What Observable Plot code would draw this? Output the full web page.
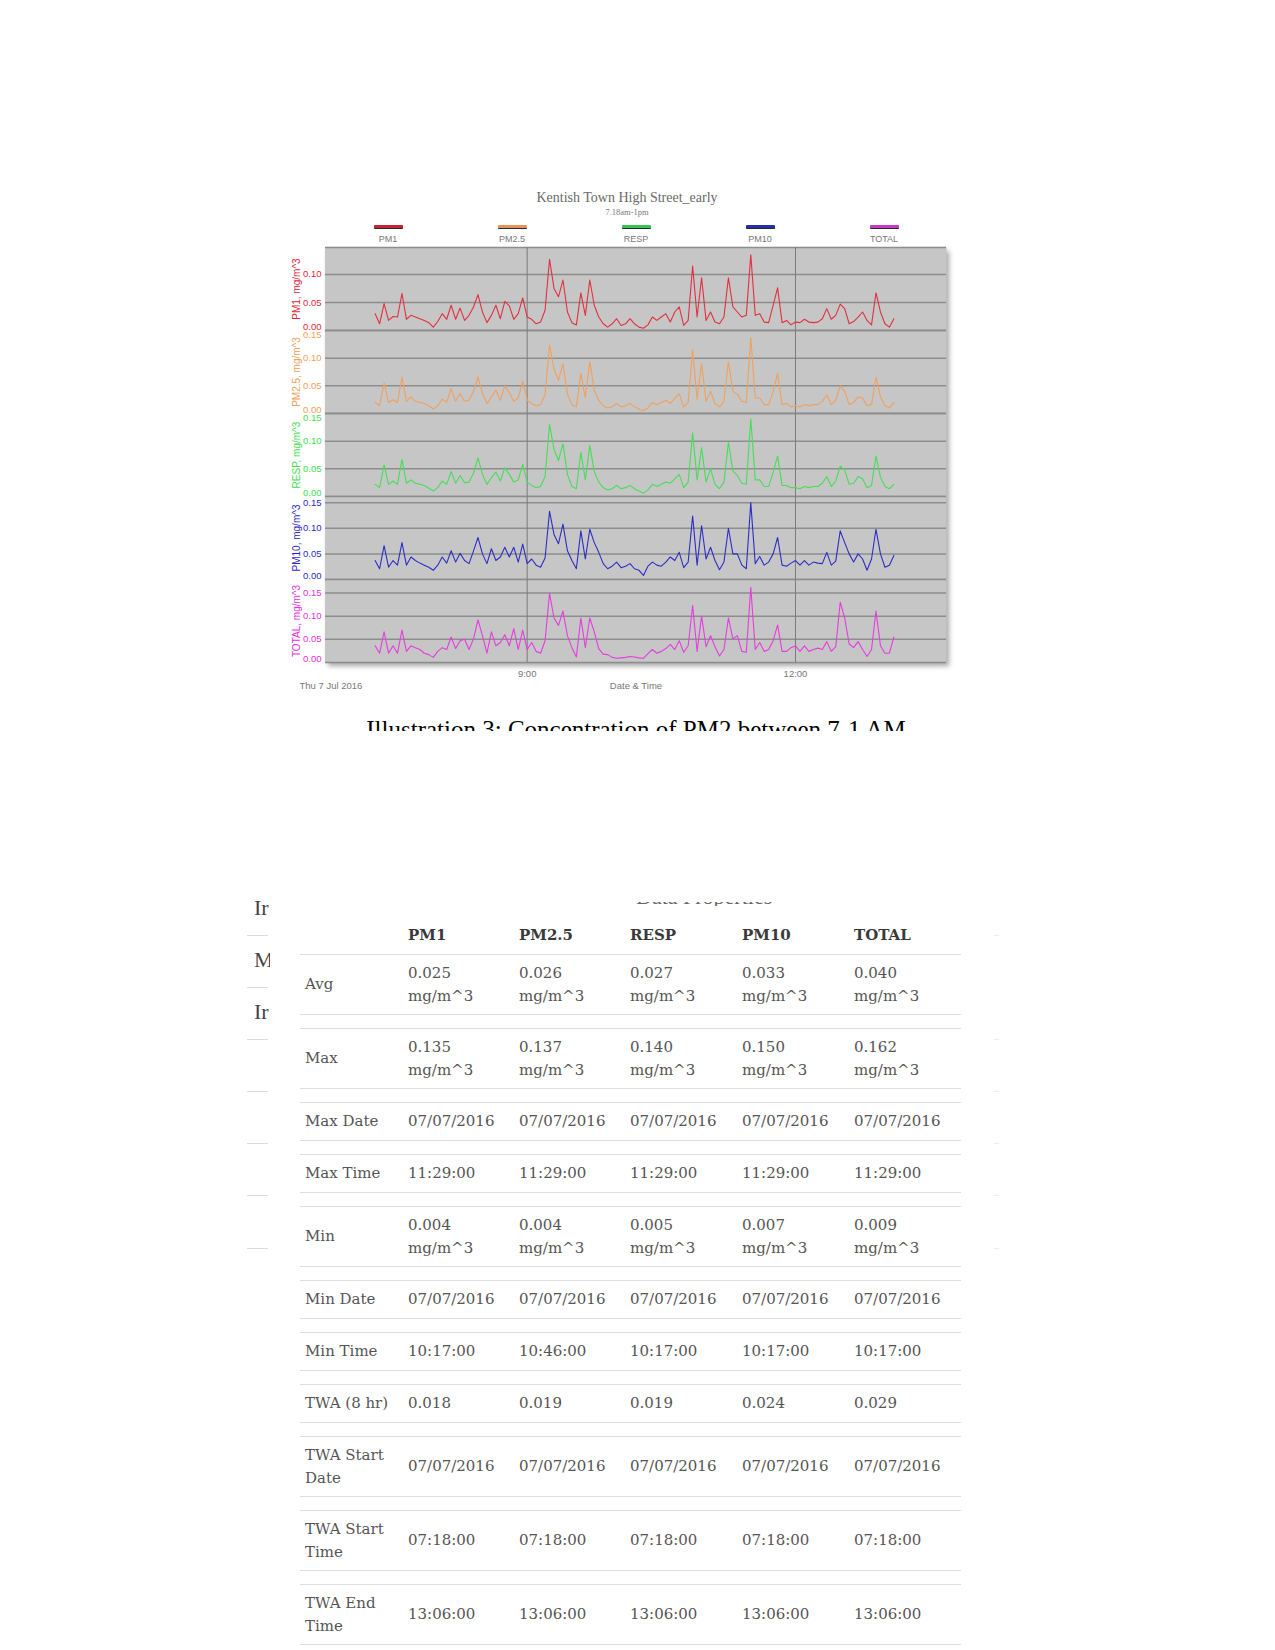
<!DOCTYPE html>
<html>
<head>
<meta charset="utf-8">
<script src="https://cdn.jsdelivr.net/npm/d3@7"></script>
<script src="https://cdn.jsdelivr.net/npm/@observablehq/plot@0.6"></script>
<style>
  html, body { margin: 0; padding: 0; background: #fff; }
  body { width: 1275px; height: 1650px; position: relative; overflow: hidden; font-family: "Liberation Sans", Arial, sans-serif; }
  .abs { position: absolute; }
  #title { left: 427px; width: 400px; top: 189px; text-align: center; font: 14px/18px "Liberation Serif", serif; color: #6a6a6a; }
  #subtitle { left: 527px; width: 200px; top: 206px; text-align: center; font: 8.5px/12px "Liberation Serif", serif; color: #777; }
  .sw { position: absolute; width: 29px; height: 3px; top: 225px; border-bottom: 1.5px solid #2a2a2a; border-radius: 1px; }
  .swl { position: absolute; width: 80px; top: 233px; text-align: center; font: 9px/12px "Liberation Sans", Arial, sans-serif; color: #777; }
  #shadow { left: 325px; top: 247px; width: 621px; height: 415px; background: #c6c6c6; box-shadow: 3px 4px 5px rgba(0,0,0,0.35); }
  #panels { left: 285px; top: 247px; width: 673px; }
  #panels svg { display: block; }
  #caption { left: 286px; width: 700px; top: 717px; height: 14px; overflow: hidden; text-align: center; font: 25px/25px "Liberation Serif", serif; color: #000; }
  #leftclip { left: 240px; top: 890px; width: 30px; height: 150px; overflow: hidden; }
  .lt { position: absolute; left: 14px; font: 22px/26px "Liberation Serif", serif; color: #444; white-space: nowrap; }
  .ll { position: absolute; height: 1px; background: #dcdcdc; }
  #dp { left: 636px; top: 902px; width: 150px; height: 4px; overflow: hidden; }
  #dp span { position: absolute; top: -16px; left: 0; font: 22px/22px "Liberation Serif", serif; color: #666; white-space: nowrap; }
  #thead { left: 300px; top: 923px; width: 661px; height: 24px; }
  .th { position: absolute; top: 0; font: bold 15px/24px "DejaVu Serif", serif; color: #3a3a3a; }
  #tbody { left: 300px; top: 954px; width: 661px; }
  .row { position: relative; box-sizing: border-box; border-top: 1px solid #dedede; border-bottom: 1px solid #dedede; margin-bottom: 13px; }
  .cell { position: absolute; top: 0; bottom: 0; display: flex; flex-direction: column; justify-content: center; font: 15px/23px "DejaVu Serif", serif; color: #555; white-space: nowrap; }
</style>
</head>
<body>
<div id="title" class="abs">Kentish Town High Street_early</div>
<div id="subtitle" class="abs">7.18am-1pm</div>
<div id="legend"></div>
<div id="shadow" class="abs"></div>
<div id="panels" class="abs"></div>
<div id="caption" class="abs">Illustration 3: Concentration of PM2 between 7-1 AM</div>
<div id="leftclip" class="abs"></div>
<div id="dp" class="abs"><span>Data Properties</span></div>
<div id="thead" class="abs"></div>
<div id="tbody" class="abs"></div>
<script>
// ---------------- chart data ----------------
const series = ["PM1", "PM2.5", "RESP", "PM10", "TOTAL"];
const lineColors = ["#e2303f", "#f2a05c", "#45df57", "#2d2dc6", "#e63ce0"];
const labelColors = ["#e41f3c", "#f2a057", "#3ddf4e", "#2a2acc", "#e52fe4"];
const swatchColors = ["#c52236", "#e8935a", "#35c456", "#2230aa", "#c838c6"];

// readings every 3 minutes from 07:18 to 13:06, Thu 7 Jul 2016
const startTime = "07:18";
const stepMinutes = 3;

const pm1 = [
  .030,.012,.048,.018,.025,.024,.066,.020,.027,.024,
  .021,.018,.014,.006,.016,.030,.020,.045,.020,.040,
  .018,.027,.042,.064,.033,.014,.027,.045,.021,.052,
  .044,.020,.030,.058,.024,.020,.012,.015,.036,.127,
  .075,.060,.090,.033,.014,.010,.067,.027,.090,.045,
  .024,.012,.006,.012,.021,.009,.012,.021,.012,.006,
  .004,.010,.024,.018,.024,.030,.015,.033,.042,.009,
  .018,.115,.024,.094,.018,.033,.015,.012,.024,.094,
  .042,.033,.024,.027,.135,.027,.030,.015,.014,.045,
  .076,.014,.018,.010,.015,.014,.020,.015,.014,.015,
  .021,.039,.020,.027,.047,.039,.012,.016,.024,.033,
  .018,.010,.067,.033,.012,.006,.021
];
const pm25 = [
  .020,.014,.055,.020,.025,.020,.066,.022,.030,.022,
  .020,.018,.014,.008,.014,.026,.020,.045,.022,.036,
  .022,.024,.040,.066,.036,.018,.030,.042,.024,.050,
  .038,.022,.028,.058,.024,.018,.014,.016,.034,.124,
  .080,.060,.090,.035,.016,.012,.072,.028,.094,.042,
  .024,.014,.010,.012,.018,.012,.014,.018,.012,.008,
  .005,.010,.020,.016,.020,.024,.018,.028,.036,.012,
  .020,.115,.026,.090,.022,.040,.018,.012,.022,.094,
  .040,.035,.022,.020,.137,.028,.028,.016,.016,.040,
  .072,.016,.018,.012,.014,.012,.016,.014,.016,.016,
  .022,.034,.016,.024,.050,.040,.016,.020,.030,.028,
  .014,.016,.066,.030,.014,.010,.020
];
const resp = [
  .022,.016,.057,.022,.028,.022,.067,.024,.030,.024,
  .022,.020,.015,.010,.016,.028,.022,.045,.024,.038,
  .025,.026,.042,.070,.040,.022,.034,.044,.028,.052,
  .040,.026,.030,.058,.026,.020,.016,.018,.036,.130,
  .085,.065,.095,.040,.018,.014,.080,.030,.092,.045,
  .026,.016,.012,.014,.020,.014,.016,.020,.014,.010,
  .006,.012,.022,.018,.022,.026,.024,.032,.040,.016,
  .026,.115,.030,.088,.026,.050,.022,.014,.026,.098,
  .046,.038,.024,.022,.140,.030,.030,.018,.018,.044,
  .073,.020,.020,.016,.016,.014,.018,.016,.018,.018,
  .024,.036,.018,.028,.055,.048,.022,.024,.036,.032,
  .016,.020,.073,.035,.018,.014,.022
];
const pm10 = [
  .037,.021,.066,.024,.037,.028,.072,.028,.044,.037,
  .032,.028,.024,.018,.028,.044,.032,.056,.034,.051,
  .037,.031,.056,.082,.050,.031,.060,.037,.044,.063,
  .044,.063,.034,.069,.031,.040,.028,.024,.042,.133,
  .088,.070,.108,.056,.037,.021,.095,.040,.098,.072,
  .053,.031,.021,.026,.034,.023,.026,.031,.021,.018,
  .008,.026,.034,.028,.026,.034,.044,.037,.053,.023,
  .034,.124,.028,.105,.040,.063,.037,.019,.034,.100,
  .050,.050,.028,.021,.150,.031,.045,.028,.034,.050,
  .082,.028,.026,.032,.037,.028,.037,.028,.034,.032,
  .031,.053,.028,.036,.095,.072,.050,.034,.050,.040,
  .018,.040,.098,.050,.024,.028,.047
];
const total = [
  .036,.020,.066,.020,.036,.020,.070,.024,.036,.032,
  .028,.020,.017,.011,.024,.032,.028,.055,.030,.047,
  .050,.028,.051,.092,.058,.020,.066,.036,.043,.060,
  .036,.073,.028,.070,.028,.043,.024,.020,.047,.149,
  .096,.080,.111,.058,.032,.012,.096,.032,.096,.066,
  .030,.018,.017,.011,.009,.010,.011,.013,.012,.010,
  .009,.019,.028,.020,.024,.030,.039,.028,.047,.022,
  .036,.123,.024,.100,.034,.058,.034,.014,.028,.096,
  .051,.058,.024,.022,.162,.028,.043,.024,.028,.047,
  .081,.024,.024,.032,.036,.024,.036,.024,.028,.031,
  .028,.045,.024,.034,.130,.096,.040,.032,.045,.028,
  .013,.028,.111,.036,.020,.020,.055
];

const yTops = [0.148, 0.15, 0.15, 0.162, 0.179];
const yTickValues = [[0, 0.05, 0.10], [0, 0.05, 0.10, 0.15], [0, 0.05, 0.10, 0.15], [0, 0.05, 0.10, 0.15], [0, 0.05, 0.10, 0.15]];
const xTickLabels = ["9:00", "12:00"];
const xDomainLabels = ["06:44:42", "13:41:18"];
const dateLabel = "Thu 7 Jul 2016";
const xAxisTitle = "Date & Time";
const unitLabel = "mg/m^3";

// ---------------- table data ----------------
const tableColumns = ["PM1", "PM2.5", "RESP", "PM10", "TOTAL"];
const rowLabels = [["Avg"], ["Max"], ["Max Date"], ["Max Time"], ["Min"], ["Min Date"], ["Min Time"], ["TWA (8 hr)"], ["TWA Start", "Date"], ["TWA Start", "Time"], ["TWA End", "Time"]];
const avgValues = ["0.025", "0.026", "0.027", "0.033", "0.040"];
const maxValues = ["0.135", "0.137", "0.140", "0.150", "0.162"];
const maxDates = ["07/07/2016", "07/07/2016", "07/07/2016", "07/07/2016", "07/07/2016"];
const maxTimes = ["11:29:00", "11:29:00", "11:29:00", "11:29:00", "11:29:00"];
const minValues = ["0.004", "0.004", "0.005", "0.007", "0.009"];
const minDates = ["07/07/2016", "07/07/2016", "07/07/2016", "07/07/2016", "07/07/2016"];
const minTimes = ["10:17:00", "10:46:00", "10:17:00", "10:17:00", "10:17:00"];
const twaValues = ["0.018", "0.019", "0.019", "0.024", "0.029"];
const twaStartDates = ["07/07/2016", "07/07/2016", "07/07/2016", "07/07/2016", "07/07/2016"];
const twaStartTimes = ["07:18:00", "07:18:00", "07:18:00", "07:18:00", "07:18:00"];
const twaEndTimes = ["13:06:00", "13:06:00", "13:06:00", "13:06:00", "13:06:00"];
const sideTexts = ["Ir", "M", "Ir"];

// ---------------- build chart ----------------
const parseT = s => { const p = s.split(":").map(Number); return new Date(2016, 6, 7, p[0], p[1], p[2] || 0); };
const t0 = parseT(startTime);
const times = pm1.map((_, i) => d3.timeMinute.offset(t0, i * stepMinutes));
const allValues = [pm1, pm25, resp, pm10, total];
const xDomain = xDomainLabels.map(parseT);
const xTicks = xTickLabels.map(parseT);
const fmt = d3.timeFormat("%-H:%M");

// legend
const legend = document.getElementById("legend");
const legendCenters = [388, 512, 636, 760, 884];
series.forEach((name, i) => {
  const sw = document.createElement("div");
  sw.className = "sw"; sw.style.left = (legendCenters[i] - 14.5) + "px"; sw.style.background = swatchColors[i];
  legend.appendChild(sw);
  const lb = document.createElement("div");
  lb.className = "swl"; lb.style.left = (legendCenters[i] - 40) + "px"; lb.textContent = name;
  legend.appendChild(lb);
});

const panels = document.getElementById("panels");
const font = "Liberation Sans, Arial, sans-serif";
series.forEach((name, i) => {
  const last = i === series.length - 1;
  const top = yTops[i];
  const ticks = yTickValues[i];
  const data = allValues[i].map((v, j) => ({time: times[j], value: v}));
  const midTicks = ticks.filter(t => t > 0 && Math.abs(t - top) > 1e-9);
  const topTicks = ticks.filter(t => Math.abs(t - top) < 1e-9);
  const tickText = {frameAnchor: "left", textAnchor: "end", dx: -4, fill: labelColors[i], fontSize: 9.5, text: d => d.toFixed(2)};
  const marks = [
    Plot.frame({fill: "#c6c6c6", stroke: null}),
    Plot.ruleY([...ticks, top], {stroke: "#8d8d8d", strokeWidth: 1.5}),
    Plot.ruleX(xTicks, {stroke: "#7c7c7c", strokeWidth: 1}),
    Plot.line(data, {x: "time", y: "value", stroke: lineColors[i], strokeWidth: 1.1}),
    Plot.text(midTicks, {...tickText, y: d => d}),
    Plot.text([0], {...tickText, y: d => d, dy: -4}),
    Plot.text(topTicks, {...tickText, y: d => d, dy: 4}),
    Plot.text([`${name}, ${unitLabel}`], {frameAnchor: "left", textAnchor: "middle", rotate: -90, dx: -29, fill: labelColors[i], fontSize: 10})
  ];
  if (last) {
    marks.push(
      Plot.text(xTicks, {x: d => d, text: d => fmt(d), frameAnchor: "bottom", dy: 14, fill: "#777", fontSize: 9.5}),
      Plot.text([xAxisTitle], {frameAnchor: "bottom", textAnchor: "middle", dy: 26, fill: "#777", fontSize: 9.5}),
      Plot.text([dateLabel], {frameAnchor: "bottom-left", textAnchor: "start", dx: -26, dy: 26, fill: "#777", fontSize: 9.5})
    );
  }
  const svg = Plot.plot({
    width: 673,
    height: 83 + (last ? 32 : 0),
    marginLeft: 40, marginRight: 12, marginTop: 0, marginBottom: last ? 32 : 0,
    style: {background: "transparent", overflow: "visible", fontFamily: font},
    x: {type: "time", domain: xDomain, axis: null},
    y: {domain: [0, top], axis: null},
    marks
  });
  panels.appendChild(svg);
});

// ---------------- side fragments ----------------
const leftclip = document.getElementById("leftclip");
[18, 70, 122].forEach((y, i) => {
  const d = document.createElement("div");
  d.className = "lt"; d.style.top = (y - 13) + "px"; d.textContent = sideTexts[i];
  leftclip.appendChild(d);
});
[935, 987, 1039, 1091, 1143, 1195, 1248].forEach(y => {
  const l = document.createElement("div");
  l.className = "ll abs"; l.style.left = "247px"; l.style.width = "21px"; l.style.top = y + "px";
  document.body.appendChild(l);
});
[935, 1039, 1091, 1143, 1195, 1248].forEach(y => {
  const l = document.createElement("div");
  l.className = "ll abs"; l.style.left = "994px"; l.style.width = "5px"; l.style.top = y + "px"; l.style.background = "#ececec";
  document.body.appendChild(l);
});

// ---------------- table ----------------
const colX = [5, 108, 219, 330, 442, 554];
const thead = document.getElementById("thead");
tableColumns.forEach((c, j) => {
  const d = document.createElement("div");
  d.className = "th"; d.style.left = colX[j + 1] + "px"; d.textContent = c;
  thead.appendChild(d);
});
const withUnit = arr => arr.map(v => [v, unitLabel]);
const rowValues = [
  withUnit(avgValues), withUnit(maxValues), maxDates.map(v => [v]), maxTimes.map(v => [v]),
  withUnit(minValues), minDates.map(v => [v]), minTimes.map(v => [v]), twaValues.map(v => [v]),
  twaStartDates.map(v => [v]), twaStartTimes.map(v => [v]), twaEndTimes.map(v => [v])
];
const tbody = document.getElementById("tbody");
rowLabels.forEach((lab, r) => {
  const cells = [lab, ...rowValues[r]];
  const lines = Math.max(...cells.map(c => c.length));
  const row = document.createElement("div");
  row.className = "row"; row.style.height = (lines > 1 ? 61 : 39) + "px";
  cells.forEach((c, j) => {
    const cell = document.createElement("div");
    cell.className = "cell"; cell.style.left = colX[j] + "px";
    c.forEach(t => { const s = document.createElement("div"); s.textContent = t; cell.appendChild(s); });
    row.appendChild(cell);
  });
  tbody.appendChild(row);
});
</script>
</body>
</html>
